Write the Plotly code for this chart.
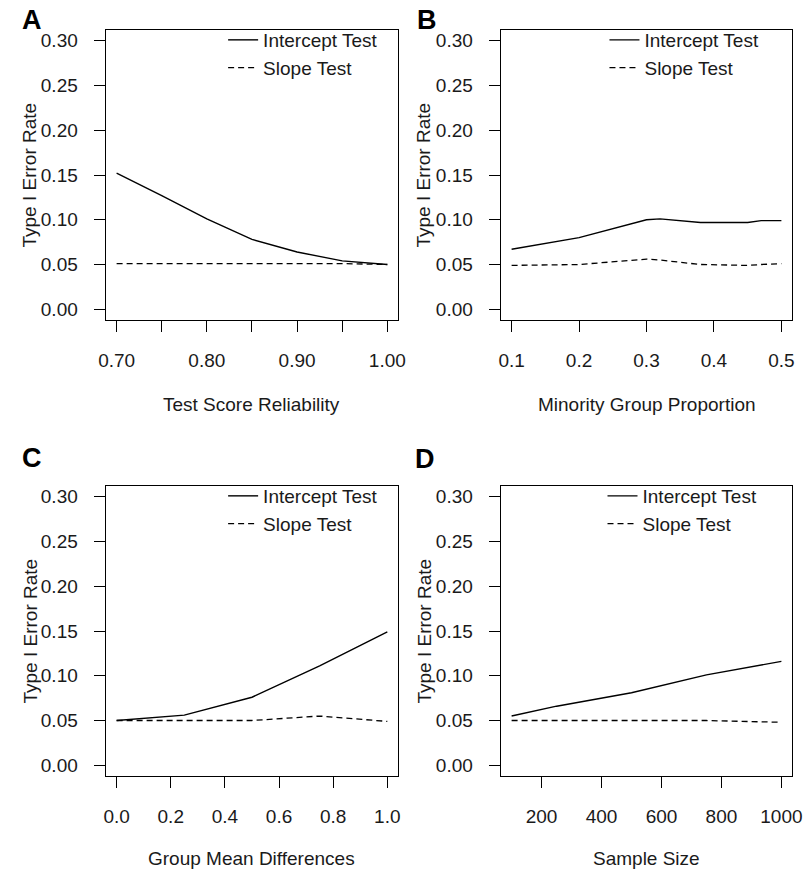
import plotly.graph_objects as go

# ---------------- data ----------------
rel_x = [0.70, 0.75, 0.80, 0.85, 0.90, 0.95, 1.00]
rel_intercept = [0.152, 0.127, 0.101, 0.078, 0.064, 0.054, 0.050]
rel_slope = [0.051, 0.051, 0.051, 0.051, 0.051, 0.051, 0.050]

prop_x = [0.10, 0.20, 0.30, 0.32, 0.38, 0.45, 0.47, 0.50]
prop_intercept = [0.067, 0.080, 0.100, 0.101, 0.097, 0.097, 0.099, 0.099]
prop_slope = [0.049, 0.050, 0.056, 0.055, 0.050, 0.049, 0.050, 0.051]

diff_x = [0.00, 0.25, 0.50, 0.75, 1.00]
diff_intercept = [0.050, 0.056, 0.076, 0.111, 0.149]
diff_slope = [0.050, 0.050, 0.050, 0.055, 0.049]

n_x = [100, 250, 500, 750, 1000]
n_intercept = [0.055, 0.066, 0.081, 0.101, 0.116]
n_slope = [0.050, 0.050, 0.050, 0.050, 0.048]

y_ticks = [0.00, 0.05, 0.10, 0.15, 0.20, 0.25, 0.30]
y_ticktext = ["0.00", "0.05", "0.10", "0.15", "0.20", "0.25", "0.30"]
a_ticks = [0.70, 0.75, 0.80, 0.85, 0.90, 0.95, 1.00]
a_ticktext = ["0.70", "", "0.80", "", "0.90", "", "1.00"]
b_ticks = [0.1, 0.2, 0.3, 0.4, 0.5]
b_ticktext = ["0.1", "0.2", "0.3", "0.4", "0.5"]
c_ticks = [0.0, 0.2, 0.4, 0.6, 0.8, 1.0]
c_ticktext = ["0.0", "0.2", "0.4", "0.6", "0.8", "1.0"]
d_ticks = [200, 400, 600, 800, 1000]
d_ticktext = ["200", "400", "600", "800", "1000"]

series_names = ["Intercept Test", "Slope Test"]
panel_letters = ["A", "B", "C", "D"]
x_titles = ["Test Score Reliability", "Minority Group Proportion",
            "Group Mean Differences", "Sample Size"]
y_title = "Type I Error Rate"

# ---------------- layout helpers ----------------
W, H = 811, 871
FONT = "Liberation Sans, Arial, sans-serif"
FS = 19
INK = "#1a1a1a"

def px_x(p):
    return p / W

def px_y(p):
    return 1 - p / H

panels = [
    dict(x=rel_x, i=rel_intercept, s=rel_slope, xr=[0.688, 1.012],
         tv=a_ticks, tt=a_ticktext, box=(100, 399, 30, 320),
         leg=(220, 21), letter=(25, 20), xt=405, yt=22),
    dict(x=prop_x, i=prop_intercept, s=prop_slope, xr=[0.084, 0.516],
         tv=b_ticks, tt=b_ticktext, box=(504, 802, 30, 320),
         leg=(610, 21), letter=(428, 20), xt=405, yt=425),
    dict(x=diff_x, i=diff_intercept, s=diff_slope, xr=[-0.04, 1.04],
         tv=c_ticks, tt=c_ticktext, box=(100, 399, 486, 776),
         leg=(220, 477), letter=(25, 458), xt=858, yt=22),
    dict(x=n_x, i=n_intercept, s=n_slope, xr=[64, 1036],
         tv=d_ticks, tt=d_ticktext, box=(504, 802, 486, 776),
         leg=(608, 477), letter=(426, 459), xt=858, yt=425),
]

fig = go.Figure()
layout = dict(
    width=W, height=H, margin=dict(l=0, r=0, t=0, b=0),
    paper_bgcolor="white", plot_bgcolor="white",
    font=dict(family=FONT, size=FS, color=INK),
    showlegend=True,
)
annotations = []

for k, p in enumerate(panels):
    n = k + 1
    sfx = "" if n == 1 else str(n)
    leg = "legend" if n == 1 else f"legend{n}"
    xa, ya = f"x{sfx}", f"y{sfx}"
    fig.add_trace(go.Scatter(x=p["x"], y=p["i"], mode="lines", name=series_names[0],
                             line=dict(color="black", width=1.4), xaxis=xa, yaxis=ya,
                             legend=leg))
    fig.add_trace(go.Scatter(x=p["x"], y=p["s"], mode="lines", name=series_names[1],
                             line=dict(color="black", width=1.3, dash="6px,4px"),
                             xaxis=xa, yaxis=ya, legend=leg))
    l, r, t, b = p["box"]
    common = dict(showline=True, mirror=True, linecolor="black", linewidth=1.4,
                  ticks="outside", ticklen=11, tickwidth=1.3, tickcolor="black",
                  showgrid=False, zeroline=False, fixedrange=True,
                  tickfont=dict(family=FONT, size=FS, color=INK))
    layout[f"xaxis{sfx}"] = dict(common, domain=[px_x(l), px_x(r)], range=p["xr"],
                                 tickmode="array", tickvals=p["tv"], ticktext=p["tt"],
                                 anchor=ya, ticklabelstandoff=12)
    layout[f"yaxis{sfx}"] = dict(common, domain=[px_y(b), px_y(t)], range=[-0.012, 0.312],
                                 tickmode="array", tickvals=y_ticks, ticktext=y_ticktext,
                                 anchor=xa, ticklabelstandoff=12)
    lx, ly = p["leg"]
    layout[leg] = dict(x=px_x(lx), y=px_y(ly), xanchor="left", yanchor="top",
                       bgcolor="rgba(0,0,0,0)", borderwidth=0,
                       font=dict(family=FONT, size=FS, color=INK),
                       tracegroupgap=0, itemwidth=30)
    # panel letter
    cx, cy = p["letter"]
    annotations.append(dict(text=f"<b>{panel_letters[k]}</b>", x=px_x(cx), y=px_y(cy),
                            xref="paper", yref="paper", showarrow=False,
                            xanchor="center", yanchor="middle",
                            font=dict(family=FONT, size=27, color="black")))
    # x title
    annotations.append(dict(text=x_titles[k], x=px_x((l + r) / 2), y=px_y(p["xt"]),
                            xref="paper", yref="paper", showarrow=False,
                            xanchor="center", yanchor="middle",
                            font=dict(family=FONT, size=FS, color=INK)))
    # y title
    annotations.append(dict(text=y_title, x=px_x(p["yt"]), y=px_y((t + b) / 2),
                            xref="paper", yref="paper", showarrow=False, textangle=-90,
                            xanchor="center", yanchor="middle",
                            font=dict(family=FONT, size=FS, color=INK)))

layout["annotations"] = annotations
fig.update_layout(**layout)
fig.write_html("out.html")
